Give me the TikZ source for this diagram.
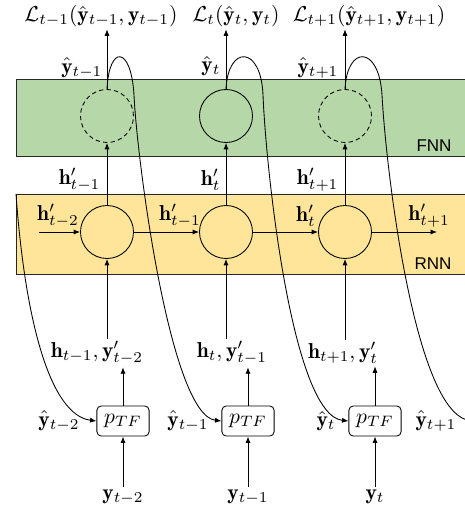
\documentclass[tikz,border=0pt]{standalone}
\usepackage{amsmath,amssymb}
\usepackage{fontspec}
\usepackage{tikz}
\usetikzlibrary{arrows.meta,positioning,calc}
\definecolor{fnngreen}{RGB}{182,215,168}
\definecolor{rnnyellow}{RGB}{255,229,153}
\newfontfamily\bandfont{Liberation Sans}
\newcommand{\yh}[1]{\hat{\mathbf{y}}_{#1}}
\newcommand{\hp}[1]{\mathbf{h}'_{#1}}

\begin{document}
\begin{tikzpicture}[
      x=0.0163cm, y=-0.0163cm,
      band/.style={draw=black!85, thin},
      bandname/.style={font=\bandfont\fontsize{7.9}{9}\selectfont, inner sep=0pt},
      unit/.style={circle, draw, thin, minimum size=0.864cm, inner sep=0pt},
      ghost/.style={unit, dash pattern=on 2pt off 1.5pt},
      tfbox/.style={rounded corners=2pt, draw, thin, minimum width=0.85cm, minimum height=0.49cm, inner sep=0pt},
      lbl/.style={inner sep=1pt},
      arr/.style={-{Latex[length=3pt,width=2.4pt]}, thin}
    ]
      \useasboundingbox (0,0) rectangle (464,513);
      % the two layers
      \draw[band, fill=fnngreen] (16,79) rectangle (470,156);
      \draw[band, fill=rnnyellow] (16,194) rectangle (470,274);
      \node[bandname] (fnnname) at (434,146) {FNN};
      \node[bandname] (rnnname) at (433,264) {RNN};

      \node[ghost] (f1) at (107,116) {};
      \node[unit] (f2) at (226,116) {};
      \node[ghost] (f3) at (345,116) {};
      \node[unit] (r1) at (107,232) {};
      \node[unit] (r2) at (226,232) {};
      \node[unit] (r3) at (345,232) {};

      \node[tfbox] (p1) at (123,421) {$p_{TF}$};
      \node[tfbox] (p2) at (248,421) {$p_{TF}$};
      \node[tfbox] (p3) at (375,421) {$p_{TF}$};
      \coordinate (p4w) at (476,421);
      \coordinate (hin) at (39,232);
      \coordinate (hout) at (437,232);
      \coordinate (back) at (16,194);

      % losses
      \node[lbl] (l1) at (101,16) {$\mathcal{L}_{t-1}(\yh{t-1},\mathbf{y}_{t-1})$};
      \node[lbl] (l2) at (236,16) {$\mathcal{L}_{t}(\yh{t},\mathbf{y}_{t})$};
      \node[lbl] (l3) at (369,16) {$\mathcal{L}_{t+1}(\yh{t+1},\mathbf{y}_{t+1})$};
      \node[lbl, anchor=east] (o1) at (105,68) {$\yh{t-1}$};
      \node[lbl, anchor=east] (o2) at (223,66) {$\yh{t}$};
      \node[lbl, anchor=east] (o3) at (341,68) {$\yh{t+1}$};
      \node[lbl, anchor=east] (v1) at (103,180) {$\hp{t-1}$};
      \node[lbl, anchor=east] (v2) at (223,180) {$\hp{t}$};
      \node[lbl, anchor=east] (v3) at (341,180) {$\hp{t+1}$};
      \node[lbl] (s0) at (58,216) {$\hp{t-2}$};
      \node[lbl] (s1) at (180,216) {$\hp{t-1}$};
      \node[lbl] (s2) at (306,216) {$\hp{t}$};
      \node[lbl] (s3) at (429,216) {$\hp{t+1}$};

      % inputs
      \node[lbl] (in1) at (97,353) {$\mathbf{h}_{t-1},\mathbf{y}'_{t-2}$};
      \node[lbl] (in2) at (232,353) {$\mathbf{h}_{t},\mathbf{y}'_{t-1}$};
      \node[lbl] (in3) at (343,353) {$\mathbf{h}_{t+1},\mathbf{y}'_{t}$};
      \node[lbl] (q1) at (59,421) {$\yh{t-2}$};
      \node[lbl] (q2) at (188,421) {$\yh{t-1}$};
      \node[lbl] (q3) at (326,421) {$\yh{t}$};
      \node[lbl] (q4) at (436,421) {$\yh{t+1}$};
      \node[lbl] (y1) at (123,497) {$\mathbf{y}_{t-2}$};
      \node[lbl] (y2) at (248,497) {$\mathbf{y}_{t-1}$};
      \node[lbl] (y3) at (375,497) {$\mathbf{y}_{t}$};

      \draw[arr] (f1.north) -- (f1.north |- l1.south);
      \draw[arr] (f2.north) -- (f2.north |- l2.south);
      \draw[arr] (f3.north) -- (f3.north |- l3.south);
      \draw[arr] (r1) -- (f1);
      \draw[arr] (r2) -- (f2);
      \draw[arr] (r3) -- (f3);
      \draw[arr] (hin) -- (r1);
      \draw[arr] (r1) -- (r2);
      \draw[arr] (r2) -- (r3);
      \draw[arr] (r3) -- (hout);
      \draw[arr] (r1 |- in1.north) -- (r1);
      \draw[arr] (r2 |- in2.north) -- (r2);
      \draw[arr] (r3 |- in3.north) -- (r3);
      \draw[arr] (p1) -- (p1 |- in1.south);
      \draw[arr] (p2) -- (p2 |- in2.south);
      \draw[arr] (p3) -- (p3 |- in3.south);
      \draw[arr] (y1) -- (p1);
      \draw[arr] (y2) -- (p2);
      \draw[arr] (y3) -- (p3);

      % feedback of the predictions
      \draw[arr] (back) .. controls (25,320) and (50,415) .. (p1.west);
      \draw[arr] (f1.north) .. controls (109,45) and (131,45) .. (134,95) .. controls (137,160) and (170,415) .. (p2.west);
      \draw[arr] (f2.north) .. controls (228,45) and (261,45) .. (263,95) .. controls (266,170) and (292,415) .. (p3.west);
      \draw[arr] (f3.north) .. controls (347,45) and (379,45) .. (382,95) .. controls (386,170) and (415,415) .. (p4w);
    \end{tikzpicture}
\end{document}
